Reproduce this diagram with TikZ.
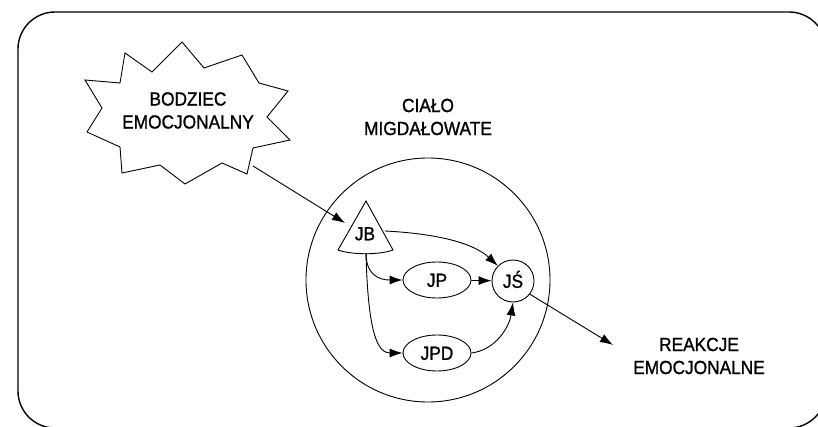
\documentclass[tikz,border=0pt]{standalone}
\usepackage{fontspec}
\setmainfont{Liberation Sans}[FakeStretch=0.91,FakeBold=1.2]
\usetikzlibrary{arrows.meta,shapes.geometric}
\begin{document}
\begin{tikzpicture}[x=1pt,y=-1pt,
  every node/.style={font=\fontsize{19}{23}\selectfont, inner sep=0pt},
  lbl/.style={text height=13.6pt, text depth=0pt},
  shapeline/.style={line width=0.9pt},
  arr/.style={draw, line width=0.9pt, -{Latex[length=13pt,width=9pt]}},
  oval/.style={shape=ellipse, draw, line width=0.9pt, minimum width=68pt, minimum height=36pt, lbl},
]
\useasboundingbox (0,0) rectangle (818,427);
% outer frame
\draw[line width=1.4pt, rounded corners=37pt] (18,12) rectangle (826,428);

% starburst
\draw[shapeline] (182,42) -- (204,68) -- (242,55) -- (259,83) -- (288,91) -- (267,117)
  -- (290,140) -- (253,148) -- (247,174) -- (222,163) -- (185,184) -- (160,165)
  -- (122,173) -- (120,147) -- (87,132) -- (102,108) -- (85,80) -- (120,83)
  -- (125,53) -- (152,72) -- cycle;
\node[align=center] (bodziec) at (188,110.5) {BODZIEC\\EMOCJONALNY};

% amygdala
\node[align=center] (cialo) at (428,117) {CIAŁO\\MIGDAŁOWATE};
\node[circle, draw, line width=0.9pt, minimum size=244pt] (amyg) at (428,280) {};

% JB triangle
\draw[shapeline] (338,250) -- (366,201) -- (393,250) .. controls (380,255) and (352,255) .. cycle;
\node[lbl] (JB) at (365,233.5) {JB};

\node[oval] (JP) at (437,280) {JP};
\node[oval] (JPD) at (437,353) {JPD};
\node[circle, draw, line width=0.9pt, minimum size=42pt, lbl] (JS) at (513,281) {JŚ};

\node[align=center] (reakcje) at (699,356) {REAKCJE\\EMOCJONALNE};

\coordinate (bstart) at (253,166);
\coordinate (jbin) at (345,223);
\coordinate (jbright) at (385,231);
\coordinate (jbbase) at (366,253);
\coordinate (rtip) at (613,345);

\draw[arr] (bstart) -- (jbin);
\draw[arr] (jbright) .. controls (425,233) and (470,240) .. (JS.135);
\draw[arr] (jbbase) .. controls (366,274) and (378,280) .. (JP.west);
\draw[arr] (jbbase) .. controls (368,335) and (378,353) .. (JPD.west);
\draw[arr] (JP) -- (JS);
\draw[arr] (JPD.east) .. controls (495,350) and (509,328) .. (JS.south);
\draw[arr] (JS.-38) -- (rtip);
\end{tikzpicture}
\end{document}
